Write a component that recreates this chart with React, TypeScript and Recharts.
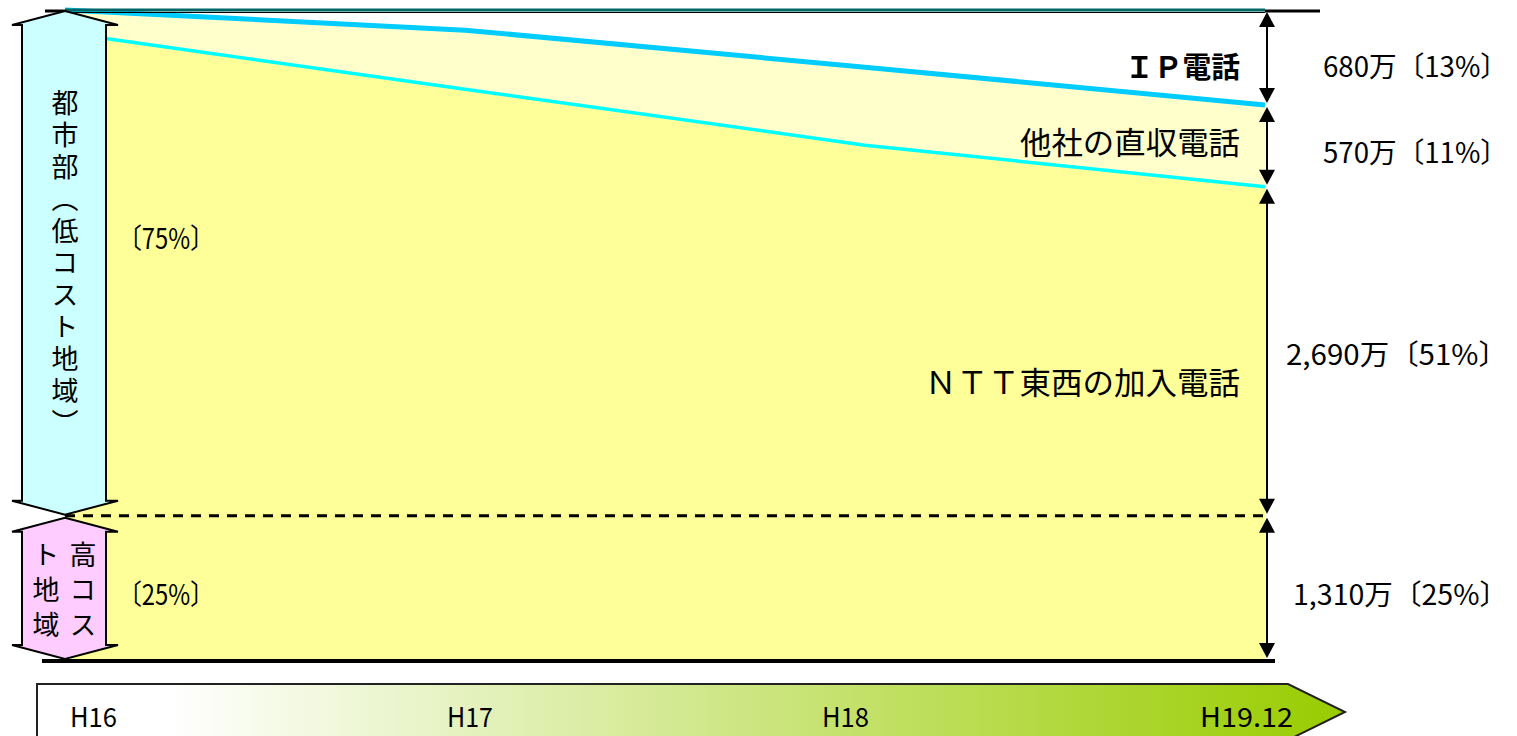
import { Area, ComposedChart, Line, ReferenceLine, XAxis, YAxis } from 'recharts';

const periods = ['H16', 'H17', 'H18', 'H19.12'];
// band edges as drawn, in % of the whole (bottom = 0, top = 100)
const nttTop = [96.5, 87.8, 79.2, 72.8];
const ipBottom = [100, 96.9, 91.2, 85.4];
const totalTop = [100, 100, 100, 100];
const highCostShare = 22.2;

const bandLabels = ['ＩＰ電話', '他社の直収電話', 'ＮＴＴ東西の加入電話'];
const bandValues = ['680万〔13%〕', '570万〔11%〕', '2,690万〔51%〕', '1,310万〔25%〕'];
const regionShares = ['〔75%〕', '〔25%〕'];
const urbanLabel = '都市部（低コスト地域）';
const ruralLabel = ['高コス', 'ト地域'];

const W = 1517;
const H = 736;
const M = { top: 10, right: 252, bottom: 76, left: 65 };
const FONT = "'Noto Sans CJK JP', 'Noto Sans CJK SC', sans-serif";

const data = periods.map((p, i) => ({
  x: i,
  period: p,
  ntt: nttTop[i],
  other: ipBottom[i] - nttTop[i],
  ip: totalTop[i] - ipBottom[i],
  nttTop: nttTop[i],
  ipBottom: ipBottom[i],
  total: totalTop[i],
}));

const plotH = H - M.top - M.bottom;
const yPx = (v: number) => M.top + ((100 - v) / 100) * plotH;

function VArrow({ x, y1, y2 }: { x: number; y1: number; y2: number }) {
  return (
    <g>
      <line x1={x} x2={x} y1={y1 + 10} y2={y2 - 10} stroke="#000" strokeWidth={2} />
      <polygon points={`${x},${y1} ${x - 8},${y1 + 15} ${x + 8},${y1 + 15}`} fill="#000" />
      <polygon points={`${x},${y2} ${x - 8},${y2 - 15} ${x + 8},${y2 - 15}`} fill="#000" />
    </g>
  );
}

function blockArrow(top: number, bottom: number) {
  return [
    [65, top],
    [118, top + 14],
    [106, top + 14],
    [106, bottom - 14],
    [118, bottom - 14],
    [65, bottom],
    [12, bottom - 14],
    [22, bottom - 14],
    [22, top + 14],
    [12, top + 14],
  ]
    .map((p) => p.join(','))
    .join(' ');
}

export default function App() {
  const last = periods.length - 1;
  const edges = [
    yPx(totalTop[last]),
    yPx(ipBottom[last]),
    yPx(nttTop[last]),
    yPx(highCostShare),
    yPx(0),
  ];
  const tickX = [70, 447, 822, 1200];
  const tickW = [47, 46, 47, 93];
  const rightW = [185, 185, 222, 215];
  const rightY = [65, 151, 353, 593];
  const labelX = [1125, 1020, 925];
  const labelY = [65, 140, 380];
  const splitY = yPx(highCostShare);

  return (
    <div style={{ position: 'absolute', left: 0, top: 0, width: W, height: H, background: '#fff', fontFamily: FONT }}>
      <ComposedChart width={W} height={H} data={data} margin={M}>
        <XAxis dataKey="x" type="number" domain={[0, last]} hide />
        <YAxis type="number" domain={[0, 100]} hide />
        <Area dataKey="ntt" stackId="a" type="linear" fill="#FFFF99" fillOpacity={1} stroke="none" isAnimationActive={false} />
        <Area dataKey="other" stackId="a" type="linear" fill="#FFFFCC" fillOpacity={1} stroke="none" isAnimationActive={false} />
        <Area dataKey="ip" stackId="a" type="linear" fill="#FFFFFF" fillOpacity={1} stroke="none" isAnimationActive={false} />
        <ReferenceLine y={highCostShare} stroke="#000" strokeWidth={3} strokeDasharray="10 8" />
        <Line dataKey="nttTop" type="linear" stroke="#00FFFF" strokeWidth={3.5} dot={false} isAnimationActive={false} />
        <Line dataKey="ipBottom" type="linear" stroke="#00CCFF" strokeWidth={5} dot={false} isAnimationActive={false} />
        <Line dataKey="total" type="linear" stroke="#006666" strokeWidth={3} dot={false} isAnimationActive={false} />
      </ComposedChart>

      <svg width={W} height={H} style={{ position: 'absolute', left: 0, top: 0, pointerEvents: 'none' }}>
        <defs>
          <linearGradient id="timeBar" x1="0" x2="1" y1="0" y2="0">
            <stop offset="0" stopColor="#FFFFFF" />
            <stop offset="0.1" stopColor="#FFFFFF" />
            <stop offset="1" stopColor="#99CC00" />
          </linearGradient>
        </defs>

        {/* frame lines */}
        <line x1={45} x2={M.left} y1={11} y2={11} stroke="#000" strokeWidth={3} />
        <line x1={W - M.right} x2={1320} y1={11} y2={11} stroke="#000" strokeWidth={3} />
        <line x1={M.left} x2={W - M.right} y1={12.5} y2={12.5} stroke="#000" strokeWidth={1} />
        <line x1={42} x2={1275} y1={661} y2={661} stroke="#000" strokeWidth={4} />

        {/* region arrows */}
        <polygon points={blockArrow(11, splitY - 1)} fill="#CCFFFF" stroke="#000" strokeWidth={2} />
        <polygon points={blockArrow(splitY + 2, 659)} fill="#FFCCFF" stroke="#000" strokeWidth={2} />
        <text x={65} y={89} fontSize={27} letterSpacing={5} style={{ writingMode: 'vertical-rl' }}>
          {urbanLabel}
        </text>
        {ruralLabel.map((col, ci) => (
          <text key={col} x={ci === 0 ? 83 : 46} y={541} fontSize={27} letterSpacing={8} style={{ writingMode: 'vertical-rl' }}>
            {col}
          </text>
        ))}
        {regionShares.map((s, i) => (
          <text key={s} x={118} y={i === 0 ? 237 : 593} fontSize={28} textLength={96} lengthAdjust="spacingAndGlyphs" dominantBaseline="central">
            {s}
          </text>
        ))}

        {/* band labels */}
        {bandLabels.map((l, i) => (
          <text
            key={l}
            x={labelX[i]}
            y={labelY[i]}
            fontSize={i === 0 ? 29 : 31}
            fontWeight={i === 0 ? 'bold' : 'normal'}
            textLength={1240 - labelX[i]}
            lengthAdjust="spacingAndGlyphs"
            dominantBaseline="central"
          >
            {l}
          </text>
        ))}

        {/* right-hand measures */}
        {bandValues.map((v, i) => (
          <g key={v}>
            <VArrow x={1267} y1={edges[i] + 2} y2={edges[i + 1] - 2} />
            <text
              x={1508 - rightW[i]}
              y={rightY[i]}
              fontSize={28}
              textLength={rightW[i]}
              lengthAdjust="spacingAndGlyphs"
              dominantBaseline="central"
            >
              {v}
            </text>
          </g>
        ))}

        {/* time bar */}
        <polygon points="37,684 1288,684 1345,712 1288,740 37,740" fill="url(#timeBar)" stroke="#222" strokeWidth={2} />
        {periods.map((p, i) => (
          <text key={p} x={tickX[i]} y={715} fontSize={27} textLength={tickW[i]} lengthAdjust="spacingAndGlyphs" dominantBaseline="central">
            {p}
          </text>
        ))}
      </svg>
    </div>
  );
}
